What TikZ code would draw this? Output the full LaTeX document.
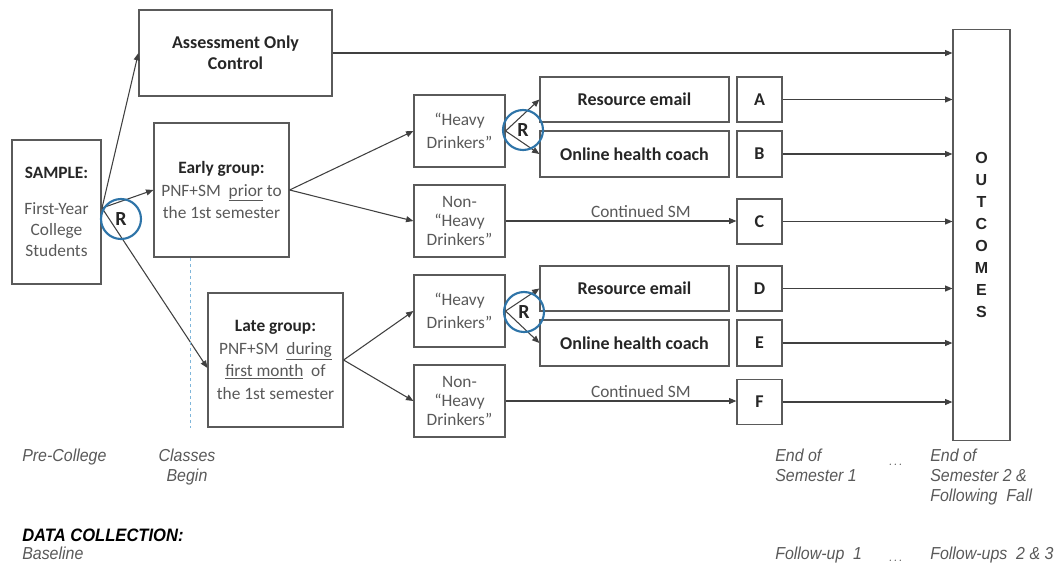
\documentclass[tikz,border=0pt]{standalone}
\usepackage{fontspec}
\setmainfont{Carlito}
\newfontfamily\narrowit[FakeStretch=0.92]{Liberation Sans}
\newfontfamily\arialf{Liberation Sans}
\usetikzlibrary{arrows.meta}
\definecolor{txtgray}{HTML}{595959}
\definecolor{txtdark}{HTML}{262626}
\definecolor{linegray}{HTML}{404040}
\definecolor{boxgray}{HTML}{5A5A5A}
\definecolor{rblue}{HTML}{2E74A8}
\definecolor{dashblue}{HTML}{7FB6DA}
\begin{document}
\begin{tikzpicture}[x=0.75pt,y=-0.75pt,
  box/.style={draw=boxgray, line width=0.9pt, inner sep=1pt, align=center, text=txtgray,
    font={\fontsize{13}{16.8}\selectfont}},
  boldbox/.style={box, text=txtdark, font={\bfseries\fontsize{13.5}{16}\selectfont}},
  conn/.style={draw=linegray, line width=0.8pt, -{Triangle[length=5.5pt,width=4.5pt]}},
  rcirc/.style={circle, draw=rblue, line width=1.6pt, minimum size=30pt, inner sep=0pt,
    text=txtdark, font={\bfseries\fontsize{15}{15}\selectfont}},
  bottom/.style={anchor=north west, align=left, inner sep=0pt, text=txtgray,
    font={\narrowit\itshape\fontsize{13}{15}\selectfont}},
  lbl/.style={above, text=txtgray, font={\fontsize{13}{14}\selectfont}, inner sep=2pt},
  ]
\useasboundingbox (0,0) rectangle (1058,568);
% boxes
\node[box, minimum width=66.75pt, minimum height=108pt, font={\fontsize{13}{16}\selectfont}] (sample) at (56.5,212)
  {{\color{txtdark}\bfseries SAMPLE:}\\[11pt]First-Year\\College\\Students};
\node[boldbox, minimum width=144.75pt, minimum height=64.5pt] (aoc) at (235.5,53)
  {Assessment Only\\Control};
\node[box, minimum width=101.25pt, minimum height=100.5pt] (early) at (221.5,190)
  {{\color{txtdark}\bfseries Early group:}\\PNF+SM\ \ \underline{prior} to\\the 1st semester};
\node[box, minimum width=101.25pt, minimum height=100.5pt] (late) at (275.5,360)
  {{\color{txtdark}\bfseries Late group:}\\PNF+SM\ \ \underline{during}\\\underline{first month}\ \ of\\the 1st semester};
\node[box, minimum width=68.25pt, minimum height=54pt] (heavy1) at (459.5,131)
  {“Heavy\\Drinkers”};
\node[box, minimum width=68.25pt, minimum height=54pt, font={\fontsize{13}{14.6}\selectfont}] (non1) at (459.5,221)
  {Non-\\“Heavy\\Drinkers”};
\node[box, minimum width=68.25pt, minimum height=54pt] (heavy2) at (459.5,311)
  {“Heavy\\Drinkers”};
\node[box, minimum width=68.25pt, minimum height=54pt, font={\fontsize{13}{14.6}\selectfont}] (non2) at (459.5,401)
  {Non-\\“Heavy\\Drinkers”};
\node[boldbox, minimum width=141.75pt, minimum height=33.75pt] (res1) at (634.5,99.5) {Resource email};
\node[boldbox, minimum width=141.75pt, minimum height=34.5pt] (onl1) at (634.5,154) {Online health coach};
\node[boldbox, minimum width=141.75pt, minimum height=33.75pt] (res2) at (634.5,288.5) {Resource email};
\node[boldbox, minimum width=141.75pt, minimum height=34.5pt] (onl2) at (634.5,343) {Online health coach};
\node[boldbox, minimum width=33.75pt, minimum height=33.75pt] (A) at (759.5,99.5) {A};
\node[boldbox, minimum width=33.75pt, minimum height=34.5pt] (B) at (759.5,154) {B};
\node[boldbox, minimum width=33.75pt, minimum height=33.75pt] (C) at (759.5,221.5) {C};
\node[boldbox, minimum width=33.75pt, minimum height=33.75pt] (D) at (759.5,288.5) {D};
\node[boldbox, minimum width=33.75pt, minimum height=34.5pt] (E) at (759.5,343) {E};
\node[boldbox, minimum width=33.75pt, minimum height=33.75pt] (F) at (759.5,402) {F};
\node[box, minimum width=42.75pt, minimum height=308.25pt, text=txtdark,
  font={\arialf\bfseries\fontsize{12}{16.5}\selectfont}] (out) at (981.5,235)
  {O\\U\\T\\C\\O\\M\\E\\S};
% connectors
\coordinate (sp) at (102,208);
\draw[conn] (sp) -- (aoc.west);
\draw[conn] (sp) -- (early.west);
\draw[conn] (sp) -- ([yshift=-6pt]late.west);
\node[rcirc] (r1) at (121,219) {R};
\draw[conn] (early.east) -- (heavy1.west);
\draw[conn] (early.east) -- (non1.west);
\draw[conn] (late.east) -- (heavy2.west);
\draw[conn] (late.east) -- (non2.west);
\draw[conn] (heavy1.east) -- (res1.west);
\draw[conn] (heavy1.east) -- (onl1.west);
\draw[conn] (heavy2.east) -- (res2.west);
\draw[conn] (heavy2.east) -- (onl2.west);
\node[rcirc] (r2) at (523,130) {R};
\node[rcirc] (r3) at (524,312) {R};
\draw[conn] (non1.east) -- node[lbl, pos=0.586] {Continued SM} (non1.east -| C.west);
\draw[conn] (non2.east) -- node[lbl, pos=0.586] {Continued SM} (non2.east -| F.west);
\draw[conn] (aoc.east) -- (aoc.east -| out.west);
\foreach \n in {A,B,C,D,E,F} { \draw[conn] (\n.east) -- (\n.east -| out.west); }
% dashed timeline
\coordinate (d1) at (190,258);
\coordinate (d2) at (190,428);
\draw[dashblue, line width=0.7pt, dash pattern=on 2.5pt off 2pt] (d1) -- (d2);
% bottom labels
\node[bottom] (precol) at (22,449) {Pre-College};
\node[bottom, align=center, anchor=north] (classes) at (187,449) {Classes\\Begin};
\node[bottom] (eos1) at (775,449) {End of\\Semester 1};
\node[bottom, anchor=base west] (dots1) at (889,465) {\fontsize{9}{9}\selectfont.\,.\,.};
\node[bottom] (eos2) at (930,449) {End of\\Semester 2 \&\\Following\ \ Fall};
\node[bottom, text=black, font={\narrowit\bfseries\itshape\fontsize{13.5}{14}\selectfont}] (dc) at (22,529) {DATA COLLECTION:};
\node[bottom] (base) at (22,547) {Baseline};
\node[bottom] (fu1) at (775,547) {Follow-up\ \ 1};
\node[bottom, anchor=base west] (dots2) at (889,561) {\fontsize{9}{9}\selectfont.\,.\,.};
\node[bottom] (fu23) at (930,547) {Follow-ups\ \ 2 \& 3};
\end{tikzpicture}
\end{document}
